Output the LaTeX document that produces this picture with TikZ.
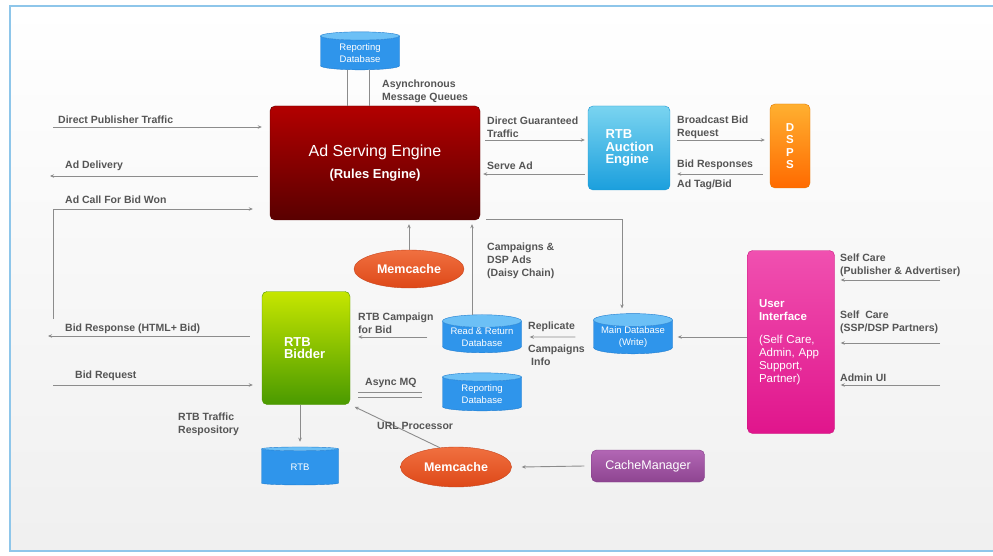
\documentclass[tikz,border=0pt]{standalone}
\usepackage{fontspec}
\setmainfont{Liberation Sans}
\usepackage{tikz}
\usetikzlibrary{arrows.meta, calc, positioning, shapes.geometric}
\definecolor{lblgray}{HTML}{555555}
\definecolor{linegray}{HTML}{8C8C8C}
\definecolor{framecol}{HTML}{8EC6EA}
\definecolor{dbbody}{HTML}{2F95EB}
\definecolor{dbend}{HTML}{6CC0F6}
\definecolor{dbline}{HTML}{1F7DD0}
\tikzset{
  conn/.style     = {-{Stealth[length=4pt,width=3.5pt]}, draw=linegray, line width=0.9pt},
  link/.style     = {draw=linegray, line width=0.9pt},
  lbl/.style      = {font=\fontsize{10.5}{13}\selectfont\bfseries, text=lblgray,
                     anchor=west, align=left, inner sep=0pt},
  unitbox/.style  = {rectangle, rounded corners=5pt, text=white, inner sep=0pt},
  enginebox/.style= {unitbox, top color=red!70!black, bottom color=red!35!black,
                     draw=red!35!black},
  auctionbox/.style={unitbox, top color={rgb,255:red,122;green,212;blue,240},
                     bottom color={rgb,255:red,27;green,159;blue,221}, draw={rgb,255:red,27;green,150;blue,210},
                     font=\fontsize{13}{12.5}\selectfont\bfseries, align=left, text width=47pt},
  dspbox/.style   = {unitbox, top color={rgb,255:red,255;green,176;blue,48},
                     bottom color={rgb,255:red,255;green,106;blue,0}, draw={rgb,255:red,225;green,120;blue,0},
                     font=\fontsize{11.5}{12.5}\selectfont\bfseries, align=center},
  bidderbox/.style= {unitbox, top color={rgb,255:red,198;green,230;blue,0},
                     bottom color={rgb,255:red,74;green,154;blue,0}, draw={rgb,255:red,80;green,150;blue,0},
                     font=\fontsize{13}{12.5}\selectfont\bfseries, align=left, text width=44pt},
  uibox/.style    = {unitbox, top color={rgb,255:red,240;green,80;blue,176},
                     bottom color={rgb,255:red,224;green,21;blue,140}, draw={rgb,255:red,200;green,20;blue,125},
                     font=\fontsize{11.5}{13}\selectfont, align=left, text width=64pt},
  mgrbox/.style   = {unitbox, top color={rgb,255:red,178;green,102;blue,180},
                     bottom color={rgb,255:red,142;green,69;blue,145}, draw={rgb,255:red,130;green,60;blue,135},
                     font=\fontsize{12.5}{14}\selectfont},
  dbase/.style    = {cylinder, shape border rotate=90, aspect=0.2, draw=dbline,
                     cylinder uses custom fill, cylinder body fill=dbbody, cylinder end fill=dbend,
                     minimum width=79pt, minimum height=38pt, text=white, inner sep=0pt,
                     font=\fontsize{9.5}{12}\selectfont, align=center},
  cache/.style    = {ellipse, top color={rgb,255:red,240;green,112;blue,64},
                     bottom color={rgb,255:red,222;green,72;blue,24}, draw={rgb,255:red,200;green,70;blue,30},
                     text=white, font=\fontsize{12.5}{14}\selectfont\bfseries,
                     minimum width=110pt, minimum height=38pt, inner sep=0pt},
}

\begin{document}
\begin{tikzpicture}[x=1pt, y=-1pt]
  \useasboundingbox (0,0) rectangle (993,556);
  \fill[white] (0,0) rectangle (993,556);
  \shade[top color=white, bottom color=gray!12] (10,6) rectangle (993,551);
  \draw[framecol, line width=1.6pt] (993,6) -- (10,6) -- (10,551) -- (993,551);

  \node[enginebox, minimum width=210pt, minimum height=114pt, align=center] (asEngine) at (375,163)
    {\fontsize{16}{18}\selectfont Ad Serving Engine\\[9pt]\fontsize{13}{15}\selectfont\bfseries (Rules Engine)};
  \node[auctionbox, minimum width=82pt, minimum height=84pt] (rtbAuction) at (629,148) {RTB\\Auction\\Engine};
  \node[dspbox, minimum width=40pt, minimum height=84pt] (dsps) at (790,146) {D\\S\\P\\S};
  \node[dbase] (rptDbTop) at (360,53) {Reporting\\Database};
  \node[cache] (memTop) at (409,269) {Memcache};
  \node[bidderbox, minimum width=88pt, minimum height=113pt] (rtbBidder) at (306,348) {RTB\\Bidder};
  \node[dbase] (readDb) at (482,337) {Read \& Return\\Database};
  \node[dbase] (mainDb) at (633,337) {Main Database\\(Write)};
  \node[dbase] (rptDbLow) at (482,394) {Reporting\\Database};
  \node[dbase, minimum width=77pt] (rtbDb) at (300,467) {RTB};
  \node[cache, minimum width=111pt, minimum height=40pt] (memLow) at (456,467) {Memcache};
  \node[mgrbox, minimum width=113pt, minimum height=32pt] (cacheMgr) at (648,466) {CacheManager};
  \node[uibox, minimum width=87pt, minimum height=183pt] (userUI) at (791,342)
    {\textbf{User}\\\textbf{Interface}\\[10pt](Self Care,\\Admin, App\\Support,\\Partner)};

  \coordinate (pubIn) at (53,127);
  \coordinate (adOut) at (50,176);
  \coordinate (bidWonFoot) at (53,319);
  \coordinate (bidWonCorner) at (53,209);
  \coordinate (bidRespOut) at (48,336);
  \coordinate (bidReqIn) at (53,385);
  \coordinate (careIn) at (940,280);
  \coordinate (partnerIn) at (940,343);
  \coordinate (adminIn) at (940,385);

  \draw[link] ([xshift=-13pt]rptDbTop.south) -- ([xshift=-13pt]rptDbTop.south |- asEngine.north);
  \draw[link] ([xshift=9pt]rptDbTop.south) -- ([xshift=9pt]rptDbTop.south |- asEngine.north);
  \draw[conn, shorten >=8pt] (pubIn) -- (pubIn -| asEngine.west);
  \draw[conn] ([xshift=-12pt]asEngine.west |- adOut) -- (adOut);
  \draw[conn, shorten >=17pt] (bidWonFoot) -- (bidWonCorner) -- (bidWonCorner -| asEngine.west);
  \draw[conn] ([xshift=-12pt]rtbBidder.west |- bidRespOut) -- (bidRespOut);
  \draw[conn, shorten >=9pt] (bidReqIn) -- (bidReqIn -| rtbBidder.west);
  \draw[conn] ([xshift=5pt,yshift=23pt]asEngine.east) -- ([xshift=-3pt,yshift=8pt]rtbAuction.west);
  \draw[conn] ([xshift=-3pt,yshift=-26pt]rtbAuction.west) -- ([xshift=3pt,yshift=-11pt]asEngine.east);
  \draw[conn] ([xshift=7pt,yshift=8pt]rtbAuction.east) -- ([xshift=-5pt,yshift=6pt]dsps.west);
  \draw[conn] ([xshift=-7pt,yshift=-28pt]dsps.west) -- ([xshift=7pt,yshift=-26pt]rtbAuction.east);
  \draw[conn, shorten >=4pt] (memTop.north) -- (memTop.north |- asEngine.south);
  \draw[conn, shorten >=4pt] ([xshift=-10pt]readDb.north) -- ([xshift=-10pt]readDb.north |- asEngine.south);
  \draw[conn, shorten >=5pt] ([xshift=6pt,yshift=1pt]asEngine.south east) -| ([xshift=-11pt]mainDb.north);
  \draw[conn] ([xshift=-18pt]mainDb.west) -- ([xshift=8pt]readDb.east);
  \draw[conn] (userUI.west |- mainDb.east) -- ([xshift=5pt]mainDb.east);
  \draw[conn, shorten >=8pt] ([xshift=-15pt]readDb.west) -- (readDb.west -| rtbBidder.east);
  \draw[link] ([xshift=8pt,yshift=2pt]rtbBidder.east |- rptDbLow.west) -- ([xshift=-20pt,yshift=2pt]rptDbLow.west);
  \draw[link] ([xshift=8pt,yshift=-3pt]rtbBidder.east |- rptDbLow.west) -- ([xshift=-20pt,yshift=-3pt]rptDbLow.west);
  \draw[conn, shorten >=5pt] (rtbBidder.south -| rtbDb.north) -- (rtbDb.north);
  \draw[conn, shorten >=5pt] (memLow.130) -- (rtbBidder.south east);
  \draw[conn] ([xshift=-7pt]cacheMgr.west) -- ([xshift=10pt]memLow.east);
  \draw[conn, shorten >=6pt] (careIn) -- (careIn -| userUI.east);
  \draw[conn, shorten >=6pt] (partnerIn) -- (partnerIn -| userUI.east);
  \draw[conn, shorten >=6pt] (adminIn) -- (adminIn -| userUI.east);

  \node[lbl] (lblQueues) at (382,91.5) {Asynchronous\\Message Queues};
  \node[lbl] (lblPub) at (58,120) {Direct Publisher Traffic};
  \node[lbl] (lblDelivery) at (65,166) {Ad Delivery};
  \node[lbl] (lblBidWon) at (65,200) {Ad Call For Bid Won};
  \node[lbl] (lblBidResp) at (65,329) {Bid Response (HTML+ Bid)};
  \node[lbl] (lblBidReq) at (75,376) {Bid Request};
  \node[lbl] (lblGuaranteed) at (487,127.5) {Direct Guaranteed\\Traffic};
  \node[lbl] (lblServe) at (487,166) {Serve Ad};
  \node[lbl] (lblBroadcast) at (677,127.5) {Broadcast Bid\\Request};
  \node[lbl] (lblResponses) at (677,165) {Bid Responses};
  \node[lbl] (lblAdTag) at (677,185) {Ad Tag/Bid};
  \node[lbl] (lblDaisy) at (487,261) {Campaigns \&\\DSP Ads\\(Daisy Chain)};
  \node[lbl] (lblCampaign) at (358,323) {RTB Campaign\\for Bid};
  \node[lbl] (lblReplicate) at (528,327) {Replicate};
  \node[lbl] (lblInfo) at (528,355.5) {Campaigns\\\hspace{3pt}Info};
  \node[lbl] (lblAsync) at (365,383) {Async MQ};
  \node[lbl] (lblTraffic) at (178,424.5) {RTB Traffic\\Respository};
  \node[lbl] (lblUrl) at (377,426) {URL Processor};
  \node[lbl] (lblCare) at (840,265.5) {Self Care\\(Publisher \& Advertiser)};
  \node[lbl] (lblPartner) at (840,322.5) {Self\ \ Care\\(SSP/DSP Partners)};
  \node[lbl] (lblAdmin) at (840,378) {Admin UI};
\end{tikzpicture}
\end{document}
